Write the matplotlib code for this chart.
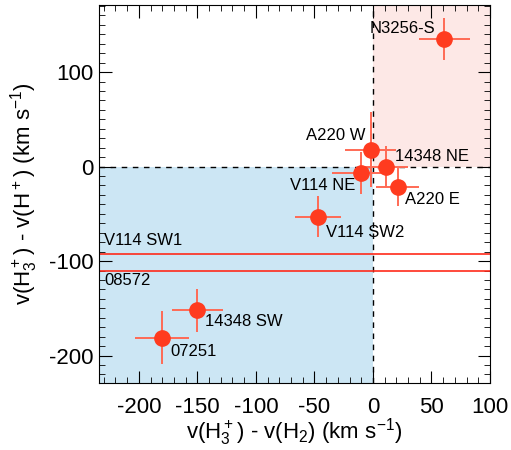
import numpy as np
import matplotlib.pyplot as plt
from matplotlib.ticker import MultipleLocator

plt.rcParams['font.family'] = ['Liberation Sans', 'DejaVu Sans']
plt.rcParams['mathtext.default'] = 'regular'
plt.rcParams['axes.unicode_minus'] = False

# data
names = ['N3256-S', 'A220 W', '14348 NE', 'V114 NE', 'A220 E', 'V114 SW2', '14348 SW', '07251']
dv_h2 = np.array([61, -2, 11, -10, 21, -47, -150, -180])
dv_hp = np.array([135, 18, 0, -7, -22, -53, -152, -181])
err_x = np.array([22, 22, 19, 25, 18, 20, 22, 23])
err_y = np.array([22, 40, 22, 22, 20, 22, 23, 28])

line_names = ['V114 SW1', '08572']
line_vals = [-92, -110]

# label offsets in pixels (dx, dy, ha)
offs = [(-9, 11, 'right'), (-5, 14, 'right'), (9, 10, 'left'), (-6, -12, 'right'),
        (7, -12, 'left'), (8, -16, 'left'), (8, -11, 'left'), (8, -14, 'left')]

xmin, xmax = -234, 100
ymin, ymax = -229, 171

fig = plt.figure(figsize=(5.11, 4.5), dpi=100)
ax = fig.add_axes([99/511, 1-383/450, 391/511, 378/450])
ax.set_xlim(xmin, xmax)
ax.set_ylim(ymin, ymax)

ax.fill_between([xmin, 0], ymin, 0, color='#cce6f4', lw=0, zorder=0)
ax.fill_between([0, xmax], 0, ymax, color='#fde8e6', lw=0, zorder=0)
ax.axvline(0, color='k', ls=(0, (4, 4)), lw=1, zorder=1)
ax.axhline(0, color='k', ls=(0, (4, 4)), lw=1, zorder=1)

for v in line_vals:
    ax.axhline(v, color='#ff2a1a', lw=1.2, zorder=2)
ax.annotate(line_names[0], (xmin, line_vals[0]), xytext=(5, 6), textcoords='offset pixels',
            ha='left', va='bottom', fontsize=12)
ax.annotate(line_names[1], (xmin, line_vals[1]), xytext=(5, -2), textcoords='offset pixels',
            ha='left', va='top', fontsize=12)

ax.errorbar(dv_h2, dv_hp, xerr=err_x, yerr=err_y, fmt='none', ecolor='#ff6a55',
            elinewidth=1.4, zorder=3)
ax.plot(dv_h2, dv_hp, 'o', color='#ff3b1f', ms=11, zorder=4)

for n, x, y, (dx, dy, ha) in zip(names, dv_h2, dv_hp, offs):
    ax.annotate(n, (x, y), xytext=(dx, dy), textcoords='offset pixels',
                ha=ha, va='center', fontsize=12)

ax.xaxis.set_major_locator(MultipleLocator(50))
ax.xaxis.set_minor_locator(MultipleLocator(10))
ax.yaxis.set_major_locator(MultipleLocator(100))
ax.yaxis.set_minor_locator(MultipleLocator(10))
ax.tick_params(which='both', direction='in', top=True, right=True, labelsize=16)
ax.tick_params(which='major', length=9)
ax.tick_params(axis='x', which='major', pad=10)
ax.tick_params(axis='y', which='major', pad=4)
ax.tick_params(which='minor', length=4)

ax.set_xlabel(r'v(H$_3^+$) - v(H$_2$) (km s$^{-1}$)', fontsize=16, labelpad=-1)
ax.set_ylabel(r'v(H$_3^+$) - v(H$^+$) (km s$^{-1}$)', fontsize=16, labelpad=6)

fig.savefig('out.png', dpi=100)
